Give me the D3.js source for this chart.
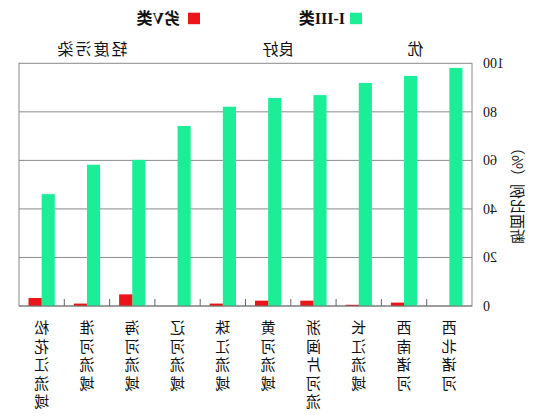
<!DOCTYPE html>
<html><head><meta charset="utf-8">
<script src="https://cdn.jsdelivr.net/npm/d3@7"></script>
<style>body{margin:0;background:#fff;} svg{display:block;}</style>
</head><body>
<svg id="c" width="543" height="419"></svg>
<script>
const categories = ["西北诸河","西南诸河","长江流域","浙闽片河流","黄河流域","珠江流域","辽河流域","海河流域","淮河流域","松花江流域"];
const seriesNames = ["I-III类","劣V类"];
const goodValues = [98.1, 94.8, 91.9, 86.9, 85.7, 82.1, 74.2, 60.2, 58.2, 46.1];
const badValues = [0, 1.4, 0.5, 2.2, 2.2, 1.0, 0, 4.8, 1.0, 3.3];
const yTicks = [0, 20, 40, 60, 80, 100];
const groupLabels = ["优", "良好", "轻度污染"];
const groupCenters = ["西南诸河", "黄河流域", "淮河流域"];
const yTitle = "断面比例（%）";
const colors = {"I-III类": "#1cee98", "劣V类": "#ea1419"};

const W = 543, H = 419;
const L = 71, R = 524, T = 63.3, B = 306;
const svg = d3.select("#c");
// reference picture is mirrored horizontally
const g = svg.append("g").attr("transform", `translate(${W},0) scale(-1,1)`);
const serif = "'Liberation Serif','Noto Sans CJK SC',serif";
const cjk = "'Noto Sans CJK SC','Liberation Serif',sans-serif";

const x0 = d3.scaleBand().domain(categories).range([L, R]).padding(0);
const bw = x0.bandwidth();
const x1 = d3.scaleBand().domain(seriesNames).range([bw * 0.21, bw * 0.79]).padding(0);
const y = d3.scaleLinear().domain([0, 100]).range([B, T]);

// gridlines
g.append("g").selectAll("line").data(yTicks.filter(t => t > 0 && t < 100)).join("line")
  .attr("x1", L).attr("x2", R).attr("y1", d => y(d)).attr("y2", d => y(d))
  .attr("stroke", "#8a8a8a").attr("stroke-width", 1);
// border
g.append("rect").attr("x", L).attr("y", y(100)).attr("width", R - L).attr("height", B - y(100))
  .attr("fill", "none").attr("stroke", "#8a8a8a").attr("stroke-width", 1);

// bars
const rows = categories.map((c, i) => ({c, vals: [{s: seriesNames[0], v: goodValues[i]}, {s: seriesNames[1], v: badValues[i]}]}));
const cg = g.append("g").selectAll("g").data(rows).join("g")
  .attr("transform", d => `translate(${x0(d.c)},0)`);
cg.selectAll("rect").data(d => d.vals.filter(v => v.v > 0)).join("rect")
  .attr("x", d => x1(d.s)).attr("width", x1.bandwidth())
  .attr("y", d => y(d.v)).attr("height", d => y(0) - y(d.v))
  .attr("fill", d => colors[d.s]);

// bottom category boundary ticks (inside)
const bounds = categories.slice(1).map(c => x0(c));
g.append("g").selectAll("line").data(bounds).join("line")
  .attr("x1", d => d).attr("x2", d => d).attr("y1", B).attr("y2", B - 7)
  .attr("stroke", "#666").attr("stroke-width", 1);
g.append("line").attr("x1", L).attr("x2", R).attr("y1", B).attr("y2", B).attr("stroke", "#777");

// y axis labels
g.append("g").selectAll("text").data(yTicks).join("text")
  .attr("x", 60).attr("y", d => y(d)).attr("dy", "0.35em")
  .attr("text-anchor", "end").attr("font-family", serif).attr("font-size", 14)
  .attr("fill", "#111").text(d => d);

// y title
g.append("text").attr("transform", `translate(31,192) rotate(-90)`)
  .attr("text-anchor", "middle").attr("font-family", cjk).attr("font-size", 15)
  .attr("fill", "#111").text(yTitle);

// category labels (vertical writing)
g.append("g").selectAll("text").data(categories).join("text")
  .attr("x", d => x0(d) + bw / 2).attr("y", 320)
  .style("writing-mode", "vertical-rl").style("text-orientation", "upright")
  .attr("letter-spacing", 3.5)
  .attr("font-family", cjk).attr("font-size", 15)
  .attr("fill", "#111").text(d => d);

// group labels above
const groupOffsets = [0.25, 0.27, 0.4];
g.append("g").selectAll("text").data(groupLabels).join("text")
  .attr("x", (d, i) => x0(groupCenters[i]) + bw * groupOffsets[i])
  .attr("y", 55).attr("text-anchor", "middle").attr("font-family", cjk).attr("font-size", 16)
  .attr("letter-spacing", (d, i) => i === 2 ? 2 : 0)
  .attr("fill", "#111").text(d => d);

// legend
const leg = g.append("g").selectAll("g").data(seriesNames).join("g")
  .attr("transform", (d, i) => `translate(${i === 0 ? 181 : 343},12.7)`);
leg.append("rect").attr("width", 12).attr("height", 11.5).attr("fill", d => colors[d]);
leg.append("text").attr("x", d => d === "劣V类" ? 20 : 17).attr("y", 11.5)
  .attr("font-family", serif).attr("font-size", 16).attr("font-weight", "bold").attr("fill", "#111").text(d => d);
</script>
</body></html>
